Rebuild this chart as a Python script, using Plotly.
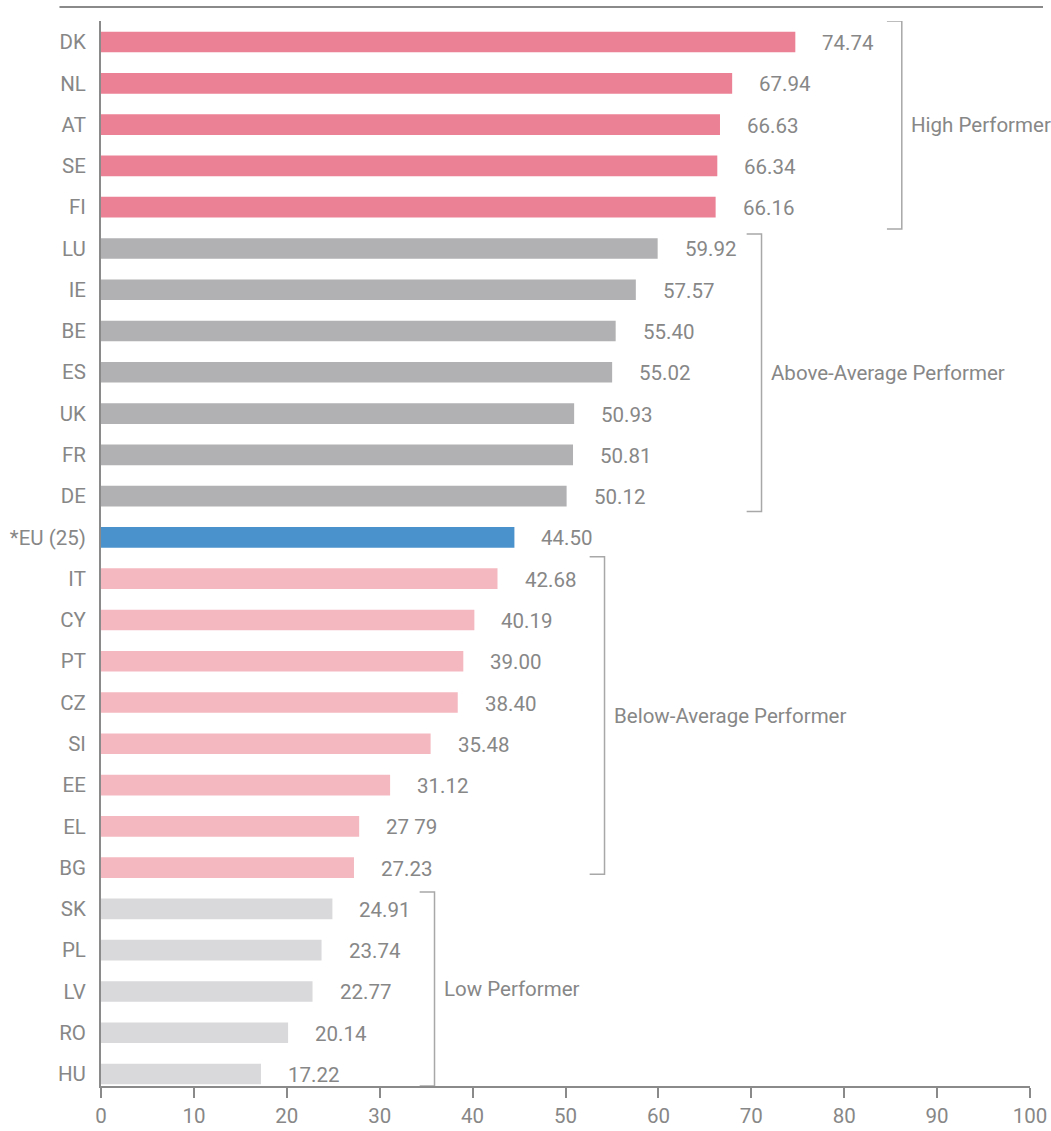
import plotly.graph_objects as go

countries = ["DK", "NL", "AT", "SE", "FI", "LU", "IE", "BE", "ES", "UK", "FR", "DE",
             "*EU (25)", "IT", "CY", "PT", "CZ", "SI", "EE", "EL", "BG",
             "SK", "PL", "LV", "RO", "HU"]
scores = [74.74, 67.94, 66.63, 66.34, 66.16, 59.92, 57.57, 55.40, 55.02, 50.93, 50.81, 50.12,
          44.50, 42.68, 40.19, 39.00, 38.40, 35.48, 31.12, 27.79, 27.23,
          24.91, 23.74, 22.77, 20.14, 17.22]
score_labels = ["74.74", "67.94", "66.63", "66.34", "66.16", "59.92", "57.57", "55.40", "55.02",
                "50.93", "50.81", "50.12", "44.50", "42.68", "40.19", "39.00", "38.40", "35.48",
                "31.12", "27 79", "27.23", "24.91", "23.74", "22.77", "20.14", "17.22"]
groups = ["high"] * 5 + ["above"] * 7 + ["eu"] + ["below"] * 8 + ["low"] * 5

group_colors = {
    "high": "#EB8195",
    "above": "#B1B1B3",
    "eu": "#4A92CC",
    "below": "#F4B8C1",
    "low": "#D9D9DB",
}

# brackets: label, first row, last row, x position of bracket
bracket_names = ["High Performer", "Above-Average Performer", "Below-Average Performer", "Low Performer"]
bracket_top = [-0.51, 4.65, 12.47, 20.59]
bracket_bottom = [4.53, 11.37, 20.16, 25.29]
bracket_x = [86.2, 71.1, 54.2, 35.9]

FONT = "Roboto, sans-serif"
FSIZE = 20.5
GREY_TXT = "#878787"
AXIS = "#8a8a8a"

fig = go.Figure()

fig.add_trace(
    go.Bar(
        x=scores,
        y=countries,
        orientation="h",
        width=0.5,
        marker=dict(color=[group_colors[g] for g in groups], line=dict(width=0)),
        showlegend=False,
        hoverinfo="x+y",
    )
)

annotations = []
for c, v, t in zip(countries, scores, score_labels):
    annotations.append(dict(
        x=v, y=c, text=t, showarrow=False, xanchor="left", yanchor="middle",
        xshift=25, yshift=-1, font=dict(family=FONT, size=FSIZE, color=GREY_TXT),
    ))

shapes = []
tick = 1.6
for name, y0, y1, bx in zip(bracket_names, bracket_top, bracket_bottom, bracket_x):
    shapes.append(dict(
        type="path", xref="x", yref="y",
        path=f"M {bx - tick},{y0} L {bx},{y0} L {bx},{y1} L {bx - tick},{y1}",
        line=dict(color="#A8A8A8", width=1.5),
    ))
    annotations.append(dict(
        x=bx + 0.8, y=(y0 + y1) / 2, xref="x", yref="y", text=name, showarrow=False,
        xanchor="left", yanchor="middle", font=dict(family=FONT, size=FSIZE, color=GREY_TXT),
    ))

# top rule
shapes.append(dict(
    type="line", xref="paper", yref="paper", x0=-0.0447, x1=1.014, y0=1.0131, y1=1.0131,
    line=dict(color=AXIS, width=2),
))

fig.update_layout(
    width=1051,
    height=1131,
    margin=dict(l=101, r=21, t=21, b=45),
    plot_bgcolor="white",
    paper_bgcolor="white",
    bargap=0.5,
    shapes=shapes,
    annotations=annotations,
    font=dict(family=FONT, size=FSIZE, color=GREY_TXT),
)

fig.update_xaxes(
    range=[0, 100],
    tickvals=[0, 10, 20, 30, 40, 50, 60, 70, 80, 90, 100],
    showgrid=False,
    zeroline=False,
    showline=True,
    linecolor=AXIS,
    linewidth=2,
    ticks="outside",
    ticklen=10,
    tickwidth=2,
    tickcolor=AXIS,
    automargin=False,
    tickfont=dict(family=FONT, size=FSIZE, color=GREY_TXT),
)
fig.update_yaxes(
    type="category",
    range=[25.29, -0.51],
    showgrid=False,
    zeroline=False,
    showline=True,
    linecolor=AXIS,
    linewidth=2,
    ticks="",
    ticklabelstandoff=9,
    automargin=False,
    tickfont=dict(family=FONT, size=FSIZE, color=GREY_TXT),
)

# drop the browser's default 8px body margin so the figure sits at the page corner
fig.write_html(
    "out.html",
    config={"displayModeBar": False},
    post_script="document.body.style.margin = '0px';",
)
